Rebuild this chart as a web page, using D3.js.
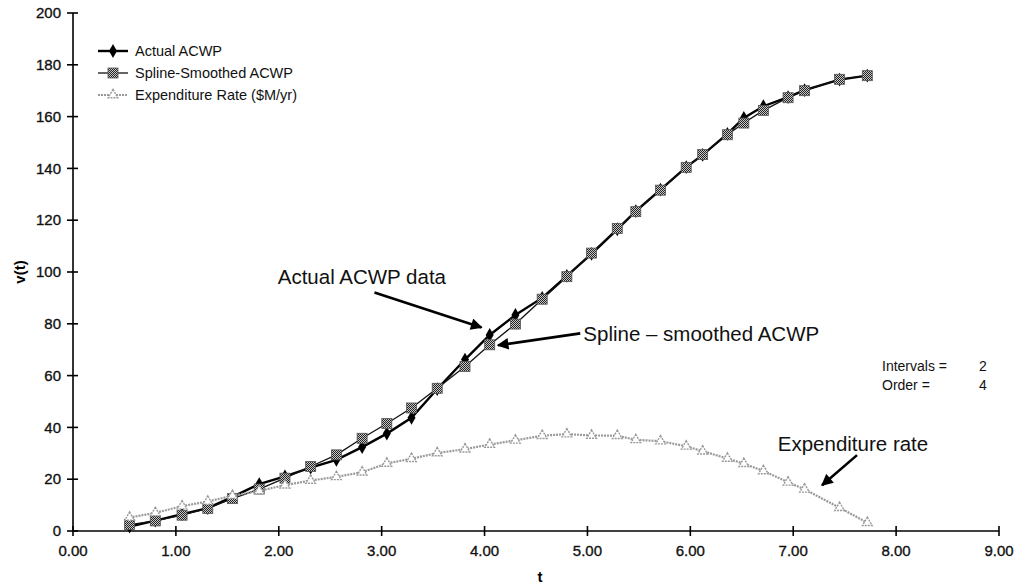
<!DOCTYPE html>
<html>
<head>
<meta charset="utf-8">
<script src="https://cdn.jsdelivr.net/npm/d3@7"></script>
<style>
  body { margin: 0; background: #fff; }
  svg { display: block; font-family: "Liberation Sans", Arial, Helvetica, sans-serif; }
</style>
</head>
<body>
<svg id="chart" width="1029" height="588"></svg>
<script>

// time points (years) shared by all three series
var tValues = [0.55, 0.80, 1.06, 1.31, 1.55, 1.81, 2.06, 2.31, 2.56, 2.81,
  3.05, 3.29, 3.54, 3.81, 4.05, 4.30, 4.56, 4.80, 5.04, 5.29,
  5.47, 5.71, 5.96, 6.12, 6.36, 6.52, 6.71, 6.95, 7.11, 7.45, 7.72]

var actualACWP = [1.7, 4.0, 6.5, 8.8, 13.2, 18.1, 21.1, 24.5, 27.5, 32.4,
  37.6, 43.7, 54.8, 66.2, 75.7, 83.4, 90.0, 98.5, 107.0, 116.5,
  123.5, 131.8, 140.5, 145.2, 153.3, 159.5, 164.0, 167.5, 170.2, 174.3, 175.8]

var splineACWP = [2.5, 3.9, 6.1, 8.7, 12.5, 16.2, 20.4, 24.9, 29.4, 35.8,
  41.5, 47.5, 55.1, 63.5, 71.9, 79.9, 89.5, 98.2, 107.3, 116.8,
  123.3, 131.6, 140.4, 145.4, 153.0, 157.5, 162.4, 167.3, 170.0, 174.4, 175.8]

var expenditureRate = [5.2, 7.0, 9.6, 11.4, 13.6, 15.5, 17.7, 19.5, 20.9, 22.7,
  26.1, 27.9, 30.1, 31.6, 33.4, 35.0, 36.8, 37.4, 36.9, 36.8,
  35.2, 34.7, 32.7, 30.8, 28.0, 26.0, 23.2, 18.8, 16.1, 9.0, 3.2]

var xTicks = [0, 1, 2, 3, 4, 5, 6, 7, 8, 9]
var yTicks = [0, 20, 40, 60, 80, 100, 120, 140, 160, 180, 200]

var legendLabels = ["Actual ACWP", "Spline-Smoothed ACWP", "Expenditure Rate ($M/yr)"]

// annotations in data units: text anchor, arrow start, arrow tip
var notes = [
  { text: "Actual ACWP data", at: [1.99, 95.5], from: [2.93, 92.1], to: [3.97, 78.6] },
  { text: "Spline \u2013 smoothed ACWP", at: [4.96, 73.5], from: [4.93, 76.3], to: [4.13, 71.7] },
  { text: "Expenditure rate", at: [6.85, 31.0], from: [7.62, 29.3], to: [7.28, 17.7] }
]

var svg = d3.select("#chart")

var x = d3.scaleLinear().domain([0, 9]).range([73, 999])
var y = d3.scaleLinear().domain([0, 200]).range([531, 13])

// checkered fill to look like the halftone squares
var defs = svg.append("defs")
var pat = defs.append("pattern")
  .attr("id", "checker")
  .attr("width", 2).attr("height", 2)
  .attr("patternUnits", "userSpaceOnUse")
pat.append("rect").attr("width", 2).attr("height", 2).attr("fill", "#c8c8c8")
pat.append("rect").attr("width", 1).attr("height", 1).attr("fill", "#222")
pat.append("rect").attr("x", 1).attr("y", 1).attr("width", 1).attr("height", 1).attr("fill", "#222")

defs.append("marker")
  .attr("id", "head")
  .attr("viewBox", "0 0 10 10")
  .attr("refX", 9).attr("refY", 5)
  .attr("markerWidth", 5).attr("markerHeight", 4.5)
  .attr("markerUnits", "strokeWidth")
  .attr("orient", "auto")
  .append("path")
  .attr("d", "M0,0 L10,5 L0,10 Z")
  .attr("fill", "#000")

// axes
var axes = svg.append("g").attr("stroke", "#000").attr("stroke-width", 1.6)
axes.append("line").attr("x1", x(0)).attr("x2", x(0)).attr("y1", y(200)).attr("y2", y(0))
axes.append("line").attr("x1", x(0)).attr("x2", x(9)).attr("y1", y(0)).attr("y2", y(0))

axes.selectAll(".ytick").data(yTicks).enter().append("line")
  .attr("x1", x(0) - 6).attr("x2", x(0) + 5)
  .attr("y1", d => y(d)).attr("y2", d => y(d))

axes.selectAll(".xtick").data(xTicks).enter().append("line")
  .attr("x1", d => x(d)).attr("x2", d => x(d))
  .attr("y1", y(0) - 5).attr("y2", y(0) + 5)

svg.selectAll(".ylab").data(yTicks).enter().append("text")
  .attr("x", x(0) - 12)
  .attr("y", d => y(d))
  .attr("dy", "0.35em")
  .attr("text-anchor", "end")
  .attr("font-size", 15)
  .attr("fill", "#111").attr("stroke", "#111").attr("stroke-width", 0.35)
  .text(d => d)

svg.selectAll(".xlab").data(xTicks).enter().append("text")
  .attr("x", d => x(d))
  .attr("y", y(0) + 25)
  .attr("text-anchor", "middle")
  .attr("font-size", 15)
  .attr("fill", "#111").attr("stroke", "#111").attr("stroke-width", 0.35)
  .text(d => d3.format(".2f")(d))

svg.append("text")
  .attr("transform", "translate(25," + y(100) + ") rotate(-90)")
  .attr("text-anchor", "middle")
  .attr("font-size", 15).attr("font-weight", "bold")
  .text("v(t)")

svg.append("text")
  .attr("x", 540).attr("y", 582)
  .attr("text-anchor", "middle")
  .attr("font-size", 15).attr("font-weight", "bold")
  .text("t")

// series
var rows = tValues.map((t, i) => ({ t: t, a: actualACWP[i], s: splineACWP[i], e: expenditureRate[i] }))

var lineA = d3.line().x(d => x(d.t)).y(d => y(d.a))
var lineS = d3.line().x(d => x(d.t)).y(d => y(d.s))
var lineE = d3.line().x(d => x(d.t)).y(d => y(d.e))

svg.append("path").datum(rows).attr("d", lineA)
  .attr("fill", "none").attr("stroke", "#000").attr("stroke-width", 2.4)

svg.selectAll(".dA").data(rows).enter().append("path")
  .attr("transform", d => "translate(" + x(d.t) + "," + y(d.a) + ")")
  .attr("d", d3.symbol().type(d3.symbolDiamond).size(55))
  .attr("fill", "#000")

svg.append("path").datum(rows).attr("d", lineS)
  .attr("fill", "none").attr("stroke", "#111").attr("stroke-width", 1.3)

svg.selectAll(".dS").data(rows).enter().append("rect")
  .attr("x", d => x(d.t) - 5).attr("y", d => y(d.s) - 5)
  .attr("width", 10).attr("height", 10)
  .attr("fill", "url(#checker)").attr("stroke", "#555").attr("stroke-width", 0.8)

svg.append("path").datum(rows).attr("d", lineE)
  .attr("fill", "none").attr("stroke", "#9a9a9a").attr("stroke-width", 2.2)
  .attr("stroke-dasharray", "2,1")

svg.selectAll(".dE").data(rows).enter().append("path")
  .attr("transform", d => "translate(" + x(d.t) + "," + y(d.e) + ")")
  .attr("d", d3.symbol().type(d3.symbolTriangle).size(40))
  .attr("fill", "#fff").attr("stroke", "#999").attr("stroke-width", 1.4)
  .attr("stroke-dasharray", "2,1")

// legend
var leg = svg.append("g").attr("transform", "translate(98,51)")
legendLabels.forEach(function (label, i) {
  var g = leg.append("g").attr("transform", "translate(0," + (i * 22) + ")")
  var ln = g.append("line").attr("x1", 0).attr("x2", 30).attr("y1", 0).attr("y2", 0)
  if (i == 0) {
    ln.attr("stroke", "#000").attr("stroke-width", 2.4)
    g.append("path").attr("transform", "translate(15,0)")
      .attr("d", d3.symbol().type(d3.symbolDiamond).size(55)).attr("fill", "#000")
  } else if (i == 1) {
    ln.attr("stroke", "#111").attr("stroke-width", 1.3)
    g.append("rect").attr("x", 10).attr("y", -5).attr("width", 10).attr("height", 10)
      .attr("fill", "url(#checker)").attr("stroke", "#555").attr("stroke-width", 0.8)
  } else {
    ln.attr("stroke", "#9a9a9a").attr("stroke-width", 2.2).attr("stroke-dasharray", "2,1")
    g.append("path").attr("transform", "translate(15,0)")
      .attr("d", d3.symbol().type(d3.symbolTriangle).size(40))
      .attr("fill", "#fff").attr("stroke", "#999").attr("stroke-width", 1.4)
      .attr("stroke-dasharray", "2,1")
  }
  g.append("text").attr("x", 37).attr("y", 0).attr("dy", "0.35em")
    .attr("font-size", 14.5).attr("fill", "#111")
    .text(label)
})

// annotations
notes.forEach(function (n) {
  svg.append("text")
    .attr("x", x(n.at[0])).attr("y", y(n.at[1]))
    .attr("font-size", 20.5).attr("fill", "#111")
    .text(n.text)
  svg.append("line")
    .attr("x1", x(n.from[0])).attr("y1", y(n.from[1]))
    .attr("x2", x(n.to[0])).attr("y2", y(n.to[1]))
    .attr("stroke", "#000").attr("stroke-width", 2.6)
    .attr("marker-end", "url(#head)")
})

// spline fit settings
var fitLabels = ["Intervals =", "Order ="]
var fitValues = [2, 4]
fitLabels.forEach(function (label, i) {
  svg.append("text").attr("x", 882).attr("y", 371 + i * 19)
    .attr("font-size", 14).attr("fill", "#111").text(label)
  svg.append("text").attr("x", 979).attr("y", 371 + i * 19)
    .attr("font-size", 14).attr("fill", "#111").text(fitValues[i])
})

</script>
</body>
</html>
